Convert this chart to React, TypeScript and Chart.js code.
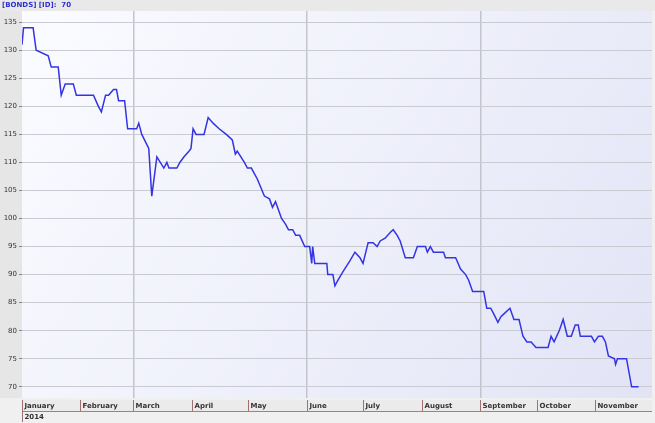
import React, { useEffect, useRef } from "react";
import { Chart, registerables } from "chart.js";

Chart.register(...registerables);

const headerText = "[BONDS] [ID]:  70";
const yearLabel = "2014";
const monthLabels = ["January", "February", "March", "April", "May", "June", "July", "August", "September", "October", "November"];
const monthStarts = [0, 31, 59, 90, 120, 151, 181, 212, 243, 273, 304];
const gridMonths = [59, 151, 243];
const yTicks = [70, 75, 80, 85, 90, 95, 100, 105, 110, 115, 120, 125, 130, 135];

const days = [
  0, 0.8, 5.9, 7.5, 13.9, 15.5, 19.2, 20.8, 22.9, 27.2, 28.8, 37.9, 40.5, 42.1, 44.3, 45.9, 48.5, 50.1, 51.2, 54.4,
  56, 60.8, 61.9, 63.5, 67.2, 68.8, 71.5, 75.2, 76.8, 77.9, 82.1, 83.7, 85.9, 88.5, 89.6, 90.7, 92.3, 96.5, 98.7,
  101.3, 104.5, 108.3, 111.5, 113.1, 114.1, 117.9, 119.5, 121.6, 124.8, 128.5, 131.2, 132.8, 134.4, 137.6, 139.7,
  141.3, 143.5, 145.1, 147.2, 149.9, 152.5, 153.6, 154.1, 155.2, 161.6, 162.1, 164.8, 165.9, 167.5, 170.1, 173.9,
  176.5, 179.2, 180.8, 183.5, 186.1, 188.3, 189.9, 192.5, 195.2, 196.8, 198.9, 200.5, 203.2, 207.5, 209.6, 213.9,
  214.9, 216.5, 218.1, 223.5, 224.5, 229.9, 232.5, 235.2, 236.8, 238.9, 244.8, 246.4, 248.5, 250.1, 252.3, 253.9,
  255.5, 258.7, 260.8, 263.5, 265.6, 267.7, 269.9, 272.5, 278.9, 280.5, 282.1, 284.8, 286.9, 289.1, 291.2, 293.3,
  294.9, 296, 301.9, 303.5, 305.6, 307.7, 309.3, 310.9, 314.1, 314.7, 315.7, 320.5, 323.2, 326.9,
];
const values = [
  131, 134, 134, 130, 129, 127, 127, 122, 124, 124, 122, 122, 120, 119, 122, 122, 123, 123, 121, 121,
  116, 116, 117, 115, 112.5, 104, 111, 109, 110, 109, 109, 110, 111, 112, 112.5, 116, 115, 115, 118,
  117, 116, 115, 114, 111.5, 112, 110, 109, 109, 107, 104, 103.5, 102, 103, 100, 99,
  98, 98, 97, 97, 95, 95, 92, 95, 92, 92, 90, 90, 88, 89, 90.5, 92.5,
  94, 93, 92, 95.7, 95.7, 95, 96, 96.5, 97.5, 98, 97, 96, 93, 93, 95, 95,
  94, 95, 94, 94, 93, 93, 91, 90, 89, 87, 87, 84, 84, 83, 81.5, 82.5,
  83, 84, 82, 82, 79, 78, 78, 77, 77, 79, 78, 80, 82, 79, 79, 81,
  81, 79, 79, 78, 79, 79, 78, 75.5, 75, 74, 75, 75, 70, 70,
];

export default function App() {
  const ref = useRef<HTMLCanvasElement | null>(null);

  useEffect(() => {
    document.body.style.margin = "0";
    const canvas = ref.current;
    if (!canvas) return;

    const decor = {
      id: "decor",
      beforeDraw(chart: any) {
        const { ctx, chartArea: a, width, height } = chart;
        ctx.save();
        ctx.fillStyle = "#f0f0f0";
        ctx.fillRect(0, 0, width, height);
        ctx.fillStyle = "#e6e6e6";
        ctx.fillRect(0, a.top, a.left, a.bottom - a.top);
        const g = ctx.createLinearGradient(a.left, a.top, a.right, a.bottom);
        g.addColorStop(0, "#fbfcff");
        g.addColorStop(1, "#e2e4f6");
        ctx.fillStyle = g;
        ctx.fillRect(a.left, a.top, a.right - a.left, a.bottom - a.top);
        ctx.restore();
      },
      afterDraw(chart: any) {
        const { ctx, chartArea: a, width } = chart;
        const xs = chart.scales.x;
        ctx.save();
        // header
        ctx.fillStyle = "#e9e9e9";
        ctx.fillRect(0, 0, width, a.top);
        ctx.fillStyle = "#2f2fd0";
        ctx.font = "bold 7px 'DejaVu Sans'";
        ctx.textBaseline = "middle";
        ctx.textAlign = "left";
        ctx.fillText(headerText, 2, 5);
        // month bar
        const top = a.bottom + 2;
        ctx.fillStyle = "#ebebeb";
        ctx.fillRect(a.left, top, a.right - a.left, 11);
        ctx.strokeStyle = "#8a8a8a";
        ctx.lineWidth = 1;
        ctx.beginPath();
        ctx.moveTo(a.left, top + 11.5);
        ctx.lineTo(a.right, top + 11.5);
        ctx.stroke();
        ctx.font = "bold 7px 'DejaVu Sans'";
        monthStarts.forEach((d, i) => {
          const x = Math.round(xs.getPixelForValue(d)) + 0.5;
          ctx.strokeStyle = "#a07070";
          ctx.beginPath();
          ctx.moveTo(x, top);
          ctx.lineTo(x, i === 0 ? top + 22 : top + 11);
          ctx.stroke();
          ctx.fillStyle = "#333";
          ctx.fillText(monthLabels[i], x + 2, top + 6);
        });
        ctx.fillText(yearLabel, Math.round(xs.getPixelForValue(0)) + 2.5, top + 17);
        ctx.restore();
      },
    };

    const chart = new Chart(canvas, {
      type: "line",
      data: {
        datasets: [
          {
            data: days.map((d, i) => ({ x: d, y: values[i] })),
            borderColor: "#3434e2",
            borderWidth: 1.5,
            pointRadius: 0,
            tension: 0,
            fill: false,
          },
        ],
      },
      options: {
        responsive: false,
        animation: false,
        layout: { padding: { top: 11, right: 3, left: 0, bottom: 0 } },
        plugins: { legend: { display: false }, tooltip: { enabled: false } },
        scales: {
          x: {
            type: "linear",
            min: 0,
            max: 334,
            afterBuildTicks: (s: any) => {
              s.ticks = monthStarts.map((v) => ({ value: v }));
            },
            afterFit: (s: any) => {
              s.height = 25;
            },
            ticks: { display: false },
            border: { display: false },
            grid: {
              drawTicks: false,
              lineWidth: 1.5,
              color: (c: any) => (c.tick && gridMonths.includes(c.tick.value) ? "#c4c4cc" : "rgba(0,0,0,0)"),
            },
          },
          y: {
            min: 68,
            max: 137,
            afterBuildTicks: (s: any) => {
              s.ticks = yTicks.map((v) => ({ value: v }));
            },
            afterFit: (s: any) => {
              s.width = 22;
            },
            border: { display: false },
            ticks: {
              color: "#333",
              font: { size: 7, family: "'DejaVu Sans'" },
              padding: 2,
            },
            grid: {
              color: "#cacad2",
              lineWidth: 1,
              tickLength: 3,
              tickColor: "#888",
            },
          },
        },
      },
      plugins: [decor],
    });
    return () => chart.destroy();
  }, []);

  return (
    <div style={{ width: 655, height: 423 }}>
      <canvas ref={ref} width={655} height={423} style={{ display: "block" }} />
    </div>
  );
}
